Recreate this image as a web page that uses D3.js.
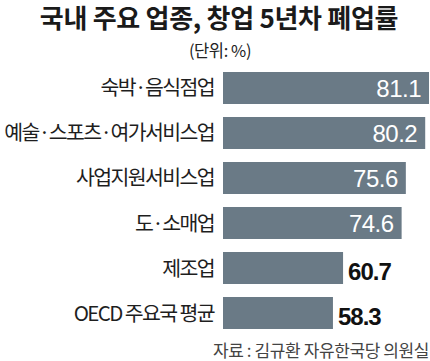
<!DOCTYPE html>
<html><head><meta charset="utf-8">
<script src="https://cdn.jsdelivr.net/npm/d3@7"></script>
<style>
html,body{margin:0;padding:0;background:#fff;}
svg{display:block;}
</style></head>
<body>
<script>
const categories = ["숙박·음식점업", "예술·스포츠·여가서비스업", "사업지원서비스업", "도·소매업", "제조업", "OECD 주요국 평균"];
const values = [81.1, 80.2, 75.6, 74.6, 60.7, 58.3];
const titleText = "국내 주요 업종, 창업 5년차 폐업률";
const unitText = "(단위: %)";
const sourceText = "자료 : 김규환 자유한국당 의원실";

const W = 430, H = 361;
const svg = d3.select("body").append("svg").attr("width", W).attr("height", H);
const kr = "'Noto Sans CJK KR', 'Noto Sans', sans-serif";
const num = "'Liberation Sans Narrow', 'Liberation Sans', Arial, sans-serif";

svg.append("text").attr("x", 219).attr("y", 27.5).attr("text-anchor", "middle")
  .attr("font-family", kr).attr("font-weight", 700).attr("font-size", 26)
  .attr("letter-spacing", -0.3).attr("fill", "#1a1a1a").text(titleText);

svg.append("text").attr("x", 220).attr("y", 57).attr("text-anchor", "middle")
  .attr("font-family", kr).attr("font-size", 16.5).attr("letter-spacing", -0.4)
  .attr("fill", "#222").text(unitText);

const y = d3.scaleBand().domain(categories).range([65.5, 335.5]).paddingInner(0.289).paddingOuter(0.1444);
const x = d3.scaleLinear().domain([32.2, 81.1]).range([223, 429]);

const data = categories.map((c, i) => ({c, v: values[i]}));

svg.selectAll("rect.bar").data(data).join("rect").attr("class", "bar")
  .attr("x", x(32.2)).attr("y", d => y(d.c))
  .attr("width", d => x(d.v) - x(32.2)).attr("height", y.bandwidth())
  .attr("fill", "#6a7a86");

svg.selectAll("text.cat").data(data).join("text").attr("class", "cat")
  .attr("x", 214).attr("y", d => y(d.c) + y.bandwidth() / 2 + 7.5)
  .attr("text-anchor", "end").attr("font-family", kr).attr("font-size", 20.5)
  .attr("letter-spacing", -1.6).attr("fill", "#1e1e1e").text(d => d.c);

svg.selectAll("text.val").data(data).join("text").attr("class", "val")
  .attr("x", d => d.v > 70 ? x(d.v) - 8 : x(d.v) + 5)
  .attr("y", d => y(d.c) + y.bandwidth() / 2 + (d.v > 70 ? 9 : 12))
  .attr("text-anchor", d => d.v > 70 ? "end" : "start")
  .attr("font-family", num).attr("font-size", 24)
  .attr("font-weight", d => d.v > 70 ? 400 : 700)
  .attr("letter-spacing", d => d.v > 70 ? -0.5 : -1)
  .attr("fill", d => d.v > 70 ? "#ffffff" : "#111")
  .text(d => d.v.toFixed(1));

svg.append("text").attr("x", 429).attr("y", 357).attr("text-anchor", "end")
  .attr("font-family", kr).attr("font-size", 17).attr("letter-spacing", -0.4)
  .attr("fill", "#444").text(sourceText);
</script>
</body></html>
